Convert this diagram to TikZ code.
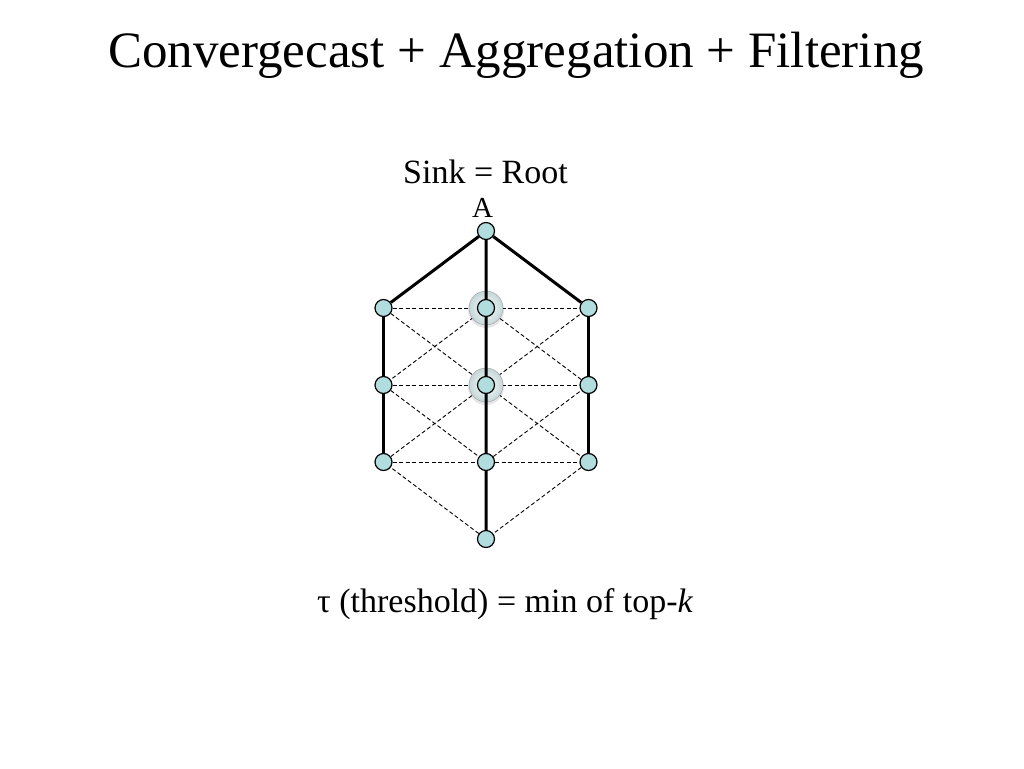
\documentclass[tikz,border=0pt]{standalone}
\usepackage{fontspec}
\setmainfont{Liberation Serif}
\usetikzlibrary{positioning,backgrounds}
\definecolor{nodefill}{RGB}{178,221,223}
\definecolor{halo}{RGB}{196,214,216}
\begin{document}
\begin{tikzpicture}[x=1pt, y=-1pt, node distance={77pt and 102.5pt}, on grid,
    main/.style = {draw, circle, fill=nodefill, minimum size=17pt, inner sep=0pt, line width=1.2pt},
    tree/.style = {line width=3pt},
    link/.style = {line width=0.9pt, dash pattern=on 4pt off 2.5pt},
    txt/.style = {inner sep=0pt, anchor=base west}]
    \useasboundingbox (0,0) rectangle (1024,768);
    \node[txt, font=\fontsize{51}{60}\selectfont] (title) at (108,67) {Convergecast + Aggregation + Filtering};
    \node[txt, font=\fontsize{34}{40}\selectfont] (sink) at (403,183) {Sink = Root};
    \node[txt, font=\fontsize{29}{34}\selectfont] (a) at (472,217) {A};
    \node[txt, font=\fontsize{34}{40}\selectfont] (tau) at (317,612) {τ (threshold) = min of top-\textit{k}};
    \node[main] (1) at (486,231) {};
    \node[main] (2) [below left=of 1] {};
    \node[main] (3) [below=of 1] {};
    \node[main] (4) [below right=of 1] {};
    \node[main] (5) [below=of 2] {};
    \node[main] (6) [below=of 3] {};
    \node[main] (7) [below=of 4] {};
    \node[main] (8) [below=of 5] {};
    \node[main] (9) [below=of 6] {};
    \node[main] (10) [below=of 7] {};
    \node[main] (11) [below=of 9] {};
    \begin{pgfonlayer}{background}
    \draw[link] (2) -- (3) -- (4) (5) -- (6) -- (7) (8) -- (9) -- (10);
    \draw[link] (2) -- (6) -- (10) -- (11) -- (8) -- (6) -- (4);
    \draw[link] (3) -- (5) -- (9) -- (7) -- (3);
    \fill[black, opacity=0.1] ([yshift=-2pt]3.center) circle (18pt);
    \fill[black, opacity=0.1] ([yshift=-2pt]6.center) circle (18pt);
    \shade[inner color=white, outer color=halo, draw=gray!70, line width=0.5pt] (3) circle (17pt);
    \shade[inner color=white, outer color=halo, draw=gray!70, line width=0.5pt] (6) circle (17pt);
    \draw[tree] (2) -- (1) -- (4) (1) -- (3) -- (6) -- (9) -- (11);
    \draw[tree] (2) -- (5) -- (8) (4) -- (7) -- (10);
    \end{pgfonlayer}
\end{tikzpicture}
\end{document}
